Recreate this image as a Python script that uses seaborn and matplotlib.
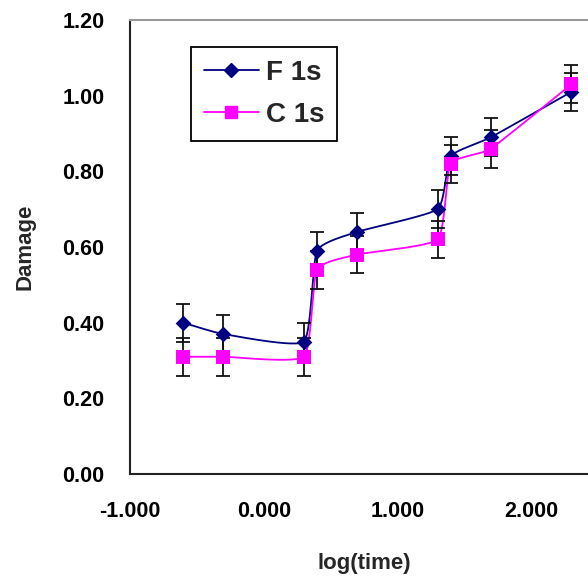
import numpy as np
import pandas as pd
import matplotlib
matplotlib.use("Agg")
import matplotlib.pyplot as plt
from matplotlib.lines import Line2D
import seaborn as sns

# Measurements: log10 of exposure time and damage for the two peaks
log_time = [-0.602, -0.301, 0.301, 0.398, 0.699, 1.301, 1.398, 1.699, 2.301]
damage_f1s = [0.40, 0.37, 0.35, 0.59, 0.64, 0.70, 0.84, 0.89, 1.01]
damage_c1s = [0.31, 0.31, 0.31, 0.54, 0.58, 0.62, 0.82, 0.86, 1.03]
err_f1s = [0.05] * 9
err_c1s = [0.05] * 9

series_names = ["F 1s", "C 1s"]
x_ticks = [-1.0, 0.0, 1.0, 2.0]
y_ticks = [0.0, 0.2, 0.4, 0.6, 0.8, 1.0, 1.2]

NAVY = "#000080"
MAGENTA = "#FF00FF"

sns.set_style("white")
plt.rcParams["font.family"] = ["Liberation Sans", "DejaVu Sans"]
plt.rcParams["font.weight"] = "bold"

W, H = 588, 582
X_MIN, X_MAX = -1.0, 2.5
PX_PER_UNIT = 133.7
fig = plt.figure(figsize=(W / 100, H / 100), dpi=100)
ax = fig.add_axes([130 / W, (H - 474) / H, (X_MAX - X_MIN) * PX_PER_UNIT / W, 454 / H])
ax.set_xlim(X_MIN, X_MAX)
ax.set_ylim(0.0, 1.2)


def smooth_curve(xs, ys, tension=0.08, n=30):
    """Bezier smoothing through the points, computed in display space."""
    pts = ax.transData.transform(np.column_stack([xs, ys]))
    out = [pts[0]]
    m = len(pts)
    for i in range(m - 1):
        p0 = pts[i - 1] if i > 0 else pts[i]
        p1 = pts[i]
        p2 = pts[i + 1]
        p3 = pts[i + 2] if i + 2 < m else pts[i + 1]
        c1 = p1 + (p2 - p0) * tension
        c2 = p2 - (p3 - p1) * tension
        t = np.linspace(0, 1, n)[1:, None]
        seg = ((1 - t) ** 3) * p1 + 3 * ((1 - t) ** 2) * t * c1 + 3 * (1 - t) * t ** 2 * c2 + t ** 3 * p2
        out.extend(seg)
    out = np.array(out)
    data = ax.transData.inverted().transform(out)
    return data[:, 0], data[:, 1]


for ys, errs, color, marker, ms in [
    (damage_f1s, err_f1s, NAVY, "D", 8),
    (damage_c1s, err_c1s, MAGENTA, "s", 9.5),
]:
    sx, sy = smooth_curve(log_time, ys)
    curve = pd.DataFrame({"x": sx, "y": sy})
    sns.lineplot(data=curve, x="x", y="y", sort=False, estimator=None,
                 color=color, linewidth=1.3, ax=ax, zorder=2)
    ax.errorbar(log_time, ys, yerr=errs, fmt="none", ecolor="#111111",
                elinewidth=1.3, capsize=5, capthick=1.3, zorder=3)
    pts = pd.DataFrame({"x": log_time, "y": ys})
    sns.scatterplot(data=pts, x="x", y="y", marker=marker, s=ms ** 2,
                    color=color, edgecolor=color, linewidth=0, ax=ax, zorder=4)

ax.set_xticks(x_ticks)
ax.set_xticklabels([f"{v:.3f}" for v in x_ticks])
ax.set_yticks(y_ticks)
ax.set_yticklabels([f"{v:.2f}" for v in y_ticks])

ax.tick_params(axis="both", which="major", direction="out", length=6.5,
               width=1.3, color="#222222", labelsize=15.5, labelcolor="black")
ax.tick_params(axis="x", pad=13)
ax.tick_params(axis="y", pad=12)
for lab in ax.get_xticklabels() + ax.get_yticklabels():
    lab.set_fontweight("bold")

for side in ["left", "bottom"]:
    ax.spines[side].set_color("#222222")
    ax.spines[side].set_linewidth(1.5)
ax.spines["top"].set_color("#9a9a9a")
ax.spines["top"].set_linewidth(1.5)
ax.spines["right"].set_visible(False)

ax.set_xlabel("log(time)", fontsize=16, fontweight="bold", labelpad=22)
ax.set_ylabel("Damage", fontsize=16, fontweight="bold", labelpad=19)

handles = [
    Line2D([0], [0], color=NAVY, lw=1.3, marker="D", markersize=7, markerfacecolor=NAVY, markeredgecolor=NAVY),
    Line2D([0], [0], color=MAGENTA, lw=1.3, marker="s", markersize=8, markerfacecolor=MAGENTA, markeredgecolor=MAGENTA),
]
ax_w_px = (X_MAX - X_MIN) * PX_PER_UNIT
leg = ax.legend(handles, series_names, loc="upper left",
                bbox_to_anchor=((191 - 130) / ax_w_px, (474 - 47) / 454),
                frameon=True, fancybox=False, framealpha=1, edgecolor="black",
                prop={"size": 20, "weight": "bold"}, handlelength=2.0, handletextpad=0.25,
                borderpad=0.45, labelspacing=0.6, borderaxespad=0)
leg.get_frame().set_linewidth(1.3)

fig.savefig("out.png", dpi=100)
